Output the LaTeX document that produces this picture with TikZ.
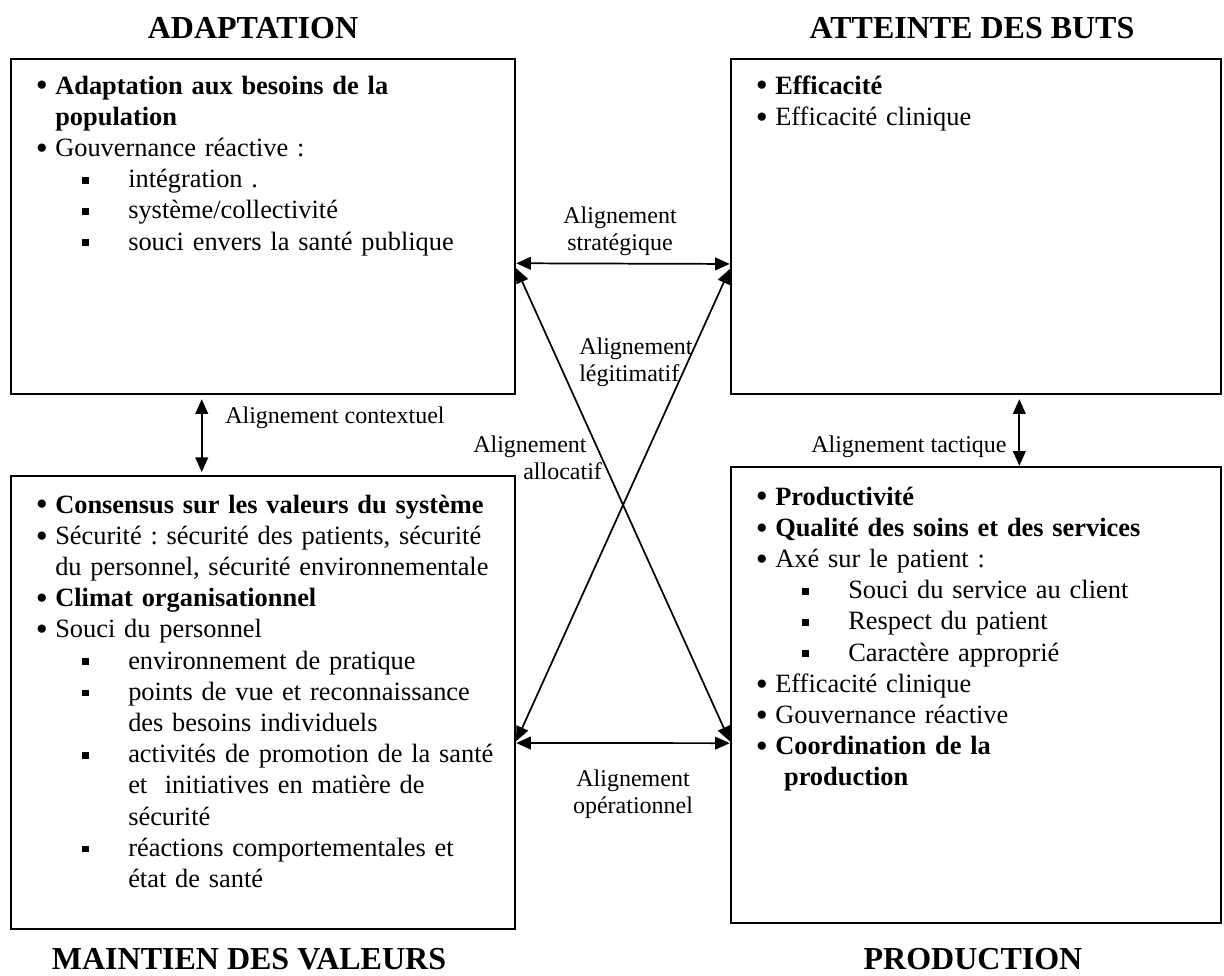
\documentclass[tikz,border=0pt]{standalone}
\usepackage{fontspec}
\setmainfont{Liberation Serif}
\usepackage{tikz}
\usetikzlibrary{arrows.meta,calc,fit}
\frenchspacing

\newcommand{\puce}[1]{\hspace*{18.5pt}\makebox[14.5pt][l]{\raisebox{-2.2pt}{\scalebox{1.3}{\textbullet}}}#1}
\newcommand{\carre}[1]{\hspace*{53.2pt}\makebox[34.55pt][l]{\raisebox{2.8pt}{\rule{5.2pt}{5.2pt}}}#1}
\newcommand{\suite}[1]{\hspace*{33pt}#1}
\newcommand{\carresuite}[1]{\hspace*{87.75pt}#1}

\begin{document}
\begin{tikzpicture}[x=0.75pt,y=0.75pt]
\tikzstyle{every node}+=[inner sep=0pt]
\tikzstyle{boite}=[draw=black, line width=1.8pt, fit={#1}]
\tikzstyle{texte}=[font=\fontsize{19.8}{23.4}\selectfont, text width=375pt, align=left, anchor=base west]
\tikzstyle{etiq}=[font=\fontsize{18}{20.25}\selectfont]
\tikzstyle{titre}=[font=\fontsize{24}{28}\selectfont\bfseries, anchor=base]
\tikzstyle{lien}=[black, line width=1.3pt, {Triangle[length=11pt,width=9.5pt]}-{Triangle[length=11pt,width=9.5pt]}]
\useasboundingbox (0,0) rectangle (1224,-975);
\node [boite={(11,-59) (515,-394)}] (tl) {};
\node [boite={(731,-59) (1221,-394)}] (tr) {};
\node [boite={(11,-476) (515,-929)}] (bl) {};
\node [boite={(731,-467) (1221,-923)}] (br) {};
\node [titre] (adapt) at (253,-38) {ADAPTATION};
\node [titre] (buts) at (972,-38) {ATTEINTE DES BUTS};
\node [titre] (valeurs) at (249,-969) {MAINTIEN DES VALEURS};
\node [titre] (prod) at (973,-969) {PRODUCTION};
\node [texte] (tltxt) at (11,-94) {\puce{\textbf{Adaptation aux besoins de la}}\\
\suite{\textbf{population}}\\
\puce{Gouvernance réactive :}\\
\carre{intégration .}\\
\carre{système/collectivité}\\
\carre{souci envers la santé publique}};
\node [texte] (trtxt) at (731,-94) {\puce{\textbf{Efficacité}}\\
\puce{Efficacité clinique}};
\node [texte] (bltxt) at (11,-513) {\puce{\textbf{Consensus sur les valeurs du système}}\\
\puce{Sécurité : sécurité des patients, sécurité}\\
\suite{du personnel, sécurité environnementale}\\
\puce{\textbf{Climat organisationnel}}\\
\puce{Souci du personnel}\\
\carre{environnement de pratique}\\
\carre{points de vue et reconnaissance}\\
\carresuite{des besoins individuels}\\
\carre{activités de promotion de la santé}\\
\carresuite{et~ initiatives en matière de}\\
\carresuite{sécurité}\\
\carre{réactions comportementales et}\\
\carresuite{état de santé}};
\node [texte] (brtxt) at (731,-505) {\puce{\textbf{Productivité}}\\
\puce{\textbf{Qualité des soins et des services}}\\
\puce{Axé sur le patient :}\\
\carre{Souci du service au client}\\
\carre{Respect du patient}\\
\carre{Caractère approprié}\\
\puce{Efficacité clinique}\\
\puce{Gouvernance réactive}\\
\puce{\textbf{Coordination de la}}\\
\suite{\ \textbf{production}}};
\node [etiq, text width=130pt, align=center, anchor=base] (strat) at (620,-223) {Alignement\\stratégique};
\node [etiq, text width=100pt, align=left, anchor=base west] (legit) at (579,-354) {Alignement\\légitimatif};
\node [etiq, text width=110pt, align=left, anchor=base west] (alloc) at (473,-452) {Alignement\\\hspace*{37.5pt}allocatif};
\node [etiq, text width=130pt, align=center, anchor=base] (oper) at (633,-786) {Alignement\\opérationnel};
\node [etiq, anchor=base west] (context) at (225,-423) {Alignement contextuel};
\node [etiq, anchor=base west] (tact) at (811,-452) {Alignement tactique};
\draw [lien] ($(tl.north east)!0.609!(tl.south east)$) -- ($(tr.north west)!0.611!(tr.south west)$);
\draw [lien] ($(bl.north east)!0.589!(bl.south east)$) -- ($(br.north west)!0.605!(br.south west)$);
\draw [lien] ($(tl.north east)!0.624!(tl.south east)$) -- ($(br.north west)!0.601!(br.south west)$);
\draw [lien] ($(tr.north west)!0.626!(tr.south west)$) -- ($(bl.north east)!0.585!(bl.south east)$);
\draw [lien, shorten <=3pt, shorten >=2pt] ($(tl.south west)!0.379!(tl.south east)$) -- ($(bl.north west)!0.379!(bl.north east)$);
\draw [lien, shorten <=3pt] ($(tr.south west)!0.588!(tr.south east)$) -- ($(br.north west)!0.588!(br.north east)$);
\end{tikzpicture}
\end{document}
